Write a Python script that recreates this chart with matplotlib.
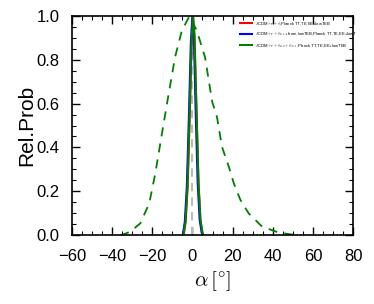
import numpy as np
import matplotlib
matplotlib.use('Agg')
import matplotlib.pyplot as plt
from matplotlib.ticker import MultipleLocator

plt.rcParams['font.family'] = ['Liberation Sans', 'DejaVu Sans']
plt.rcParams['mathtext.fontset'] = 'cm'

# narrow posteriors (solid)
alpha_red = [-4.4, -3.4, -2.4, -1.4, -0.4, 0.3, 1.0, 2.0, 3.0, 3.9, 4.9, 5.4]
prob_red = [0.0, 0.06, 0.22, 0.53, 0.88, 1.0, 0.91, 0.57, 0.24, 0.07, 0.01, 0.0]

alpha_blue = [-4.8, -3.8, -2.8, -1.8, -0.8, 0.0, 0.7, 1.6, 2.6, 3.6, 4.6, 5.1]
prob_blue = [0.0, 0.06, 0.22, 0.53, 0.88, 1.0, 0.91, 0.57, 0.24, 0.07, 0.01, 0.0]

alpha_green = [-4.5, -3.5, -2.5, -1.5, -0.5, 0.3, 1.0, 2.0, 3.0, 4.0, 5.0, 5.5]
prob_green = [0.0, 0.06, 0.22, 0.53, 0.88, 1.0, 0.91, 0.57, 0.24, 0.07, 0.01, 0.0]

# wide posterior (dashed)
alpha_wide = [-36, -34.3, -31, -26, -21.5, -18.5, -16, -12.5, -8.7, -5.3, -1.5,
              2.2, 6.3, 9.8, 12.2, 14.7, 18.1, 20.6, 23.9, 28, 34.7, 43, 51]
prob_wide = [0.0, 0.003, 0.015, 0.053, 0.145, 0.282, 0.419, 0.61, 0.811, 0.933, 1.0,
             0.933, 0.811, 0.61, 0.54, 0.403, 0.312, 0.236, 0.16, 0.099, 0.038, 0.011, 0.0]

labels = [r'$\Lambda$CDM$+r+\alpha$,Planck TT,TE,EE+lowTEB',
          r'$\Lambda$CDM$+r+\alpha_{0,1}$+ from lowTEB,Planck TT,TE,EE+lowT',
          r'$\Lambda$CDM$+r+\alpha_{0,0}+\alpha_{0,1}$,Planck TT,TE,EE+lowTEB']

fig = plt.figure(figsize=(3.74, 3.04), dpi=100)
ax = fig.add_axes([0.1925, 0.227, 0.7515, 0.72])

ax.axvline(0, color='#bbbbbb', linestyle='--', linewidth=1.5, dashes=(4, 3))
ax.plot(alpha_red, prob_red, color='red', linewidth=1.5, label=labels[0])
ax.plot(alpha_blue, prob_blue, color='blue', linewidth=1.5, label=labels[1])
ax.plot(alpha_green, prob_green, color='green', linewidth=1.5, label=labels[2])
ax.plot(alpha_wide, prob_wide, color='green', linewidth=1.3, linestyle='--', dashes=(5, 4))

ax.set_xlim(-60, 80)
ax.set_ylim(0, 1)
ax.xaxis.set_major_locator(MultipleLocator(20))
ax.xaxis.set_minor_locator(MultipleLocator(5))
ax.yaxis.set_major_locator(MultipleLocator(0.2))
ax.yaxis.set_minor_locator(MultipleLocator(0.05))
ax.tick_params(which='both', direction='in', top=True, right=True, labelsize=12)
ax.tick_params(which='major', length=6, width=1)
ax.tick_params(which='minor', length=3, width=0.8)
ax.tick_params(axis='x', which='major', pad=10)
ax.tick_params(axis='y', which='major', pad=9)
for s in ax.spines.values():
    s.set_linewidth(1.2)

ax.set_xlabel(r'$\alpha\,[^{\circ}]$', fontsize=15, labelpad=4)
ax.set_ylabel('Rel.Prob', fontsize=15, labelpad=0)

ax.legend(loc='upper right', bbox_to_anchor=(1.03, 1.0), fontsize=3, frameon=False,
          handlelength=3, handletextpad=0.8, labelspacing=0.9)

fig.savefig('out.png', dpi=100)
